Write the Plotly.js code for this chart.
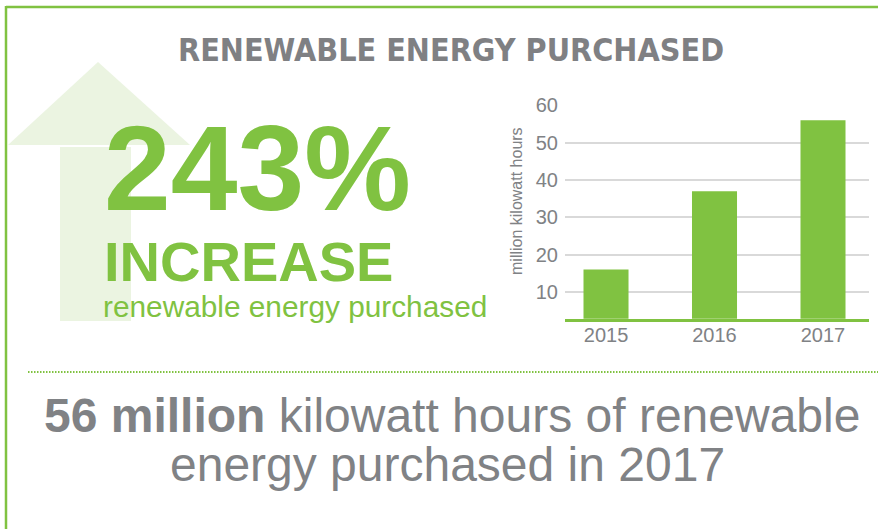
<!DOCTYPE html>
<html>
<head>
<meta charset="utf-8">
<script src="https://cdn.plot.ly/plotly-3.0.1.min.js"></script>
<style>html,body{margin:0;padding:0;background:#fff;}#chart{width:878px;height:529px;}</style>
</head>
<body>
<div id="chart"></div>
<script>
// Data
const years = ["2015", "2016", "2017"];
const energyMillionKWh = [16, 37, 56];
const yTickValues = [10, 20, 30, 40, 50, 60];
const yTickLabels = ["10", "20", "30", "40", "50", "60"];

const titleText = "RENEWABLE ENERGY PURCHASED";
const bigNumber = "243%";
const bigWord = "INCREASE";
const subText = "renewable energy purchased";
const yAxisTitle = "million kilowatt hours";
const bottomLine1 = "<b>56 million</b> kilowatt hours of renewable";
const bottomLine2 = "energy purchased in 2017";

const W = 878, H = 529;
const GREEN = "#80c241";
const GRAY = "#808285";
const LIGHT = "#ebf4e1";
const px = x => x / W;
const py = y => 1 - y / H;

const trace = {
  type: "bar",
  x: years,
  y: energyMillionKWh,
  width: 0.415,
  marker: {color: GREEN, line: {width: 0}},
  hoverinfo: "x+y"
};

const layout = {
  width: W, height: H,
  margin: {l: 0, r: 0, t: 0, b: 0},
  paper_bgcolor: "#ffffff",
  plot_bgcolor: "rgba(0,0,0,0)",
  showlegend: false,
  font: {family: "Liberation Sans, Arial, sans-serif", color: GRAY},
  xaxis: {
    type: "category",
    domain: [px(565), px(869)],
    range: [-0.378, 2.424],
    showgrid: false, zeroline: false,
    showline: true, linecolor: GREEN, linewidth: 2.5,
    ticks: "", ticklabelstandoff: -3,
    tickfont: {size: 20, color: GRAY, family: "Liberation Sans, Arial, sans-serif"},
    fixedrange: true
  },
  yaxis: {
    domain: [py(318.7), py(105.3)],
    range: [2.85, 60],
    tickvals: yTickValues, ticktext: yTickLabels,
    showgrid: true, gridcolor: "#d9d9d9", gridwidth: 2,
    zeroline: false, showline: false,
    ticks: "", ticklabelstandoff: 6,
    tickfont: {size: 20, color: GRAY, family: "Liberation Sans, Arial, sans-serif"},
    fixedrange: true
  },
  shapes: [
    // arrow head
    {type: "path", xref: "paper", yref: "paper", layer: "below",
     path: `M ${px(8)} ${py(145)} L ${px(98)} ${py(62)} L ${px(190)} ${py(145)} Z`,
     fillcolor: LIGHT, line: {width: 0}},
    // arrow shaft
    {type: "rect", xref: "paper", yref: "paper", layer: "below",
     x0: px(60), x1: px(131), y0: py(321), y1: py(147),
     fillcolor: LIGHT, line: {width: 0}},
    // border top
    {type: "line", xref: "paper", yref: "paper",
     x0: px(6), x1: px(878), y0: py(7), y1: py(7),
     line: {color: GREEN, width: 2.5}},
    // border left
    {type: "line", xref: "paper", yref: "paper",
     x0: px(6), x1: px(6), y0: py(6), y1: py(529),
     line: {color: GREEN, width: 2.5}},
    // dotted separator
    {type: "line", xref: "paper", yref: "paper",
     x0: px(28), x1: px(878), y0: py(372), y1: py(372),
     line: {color: GREEN, width: 2, dash: "1.5px,1.5px"}}
  ],
  annotations: [
    {text: titleText, xref: "paper", yref: "paper", x: px(451.5), y: py(50),
     xanchor: "center", yanchor: "middle", showarrow: false,
     font: {family: "Liberation Sans Narrow, DejaVu Sans Condensed, Arial Narrow, sans-serif", size: 32, color: "#7f8083", weight: "bold"}},
    {text: "<b>" + bigNumber + "</b>", xref: "paper", yref: "paper", x: px(102), y: py(168.4),
     xanchor: "left", yanchor: "middle", showarrow: false,
     font: {family: "Liberation Sans, Arial, sans-serif", size: 120, color: GREEN}},
    {text: "<b>" + bigWord + "</b>", xref: "paper", yref: "paper", x: px(102), y: py(261.6),
     xanchor: "left", yanchor: "middle", showarrow: false,
     font: {family: "Liberation Sans, Arial, sans-serif", size: 56, color: GREEN}},
    {text: subText, xref: "paper", yref: "paper", x: px(101), y: py(306),
     xanchor: "left", yanchor: "middle", showarrow: false,
     font: {family: "Liberation Sans, Arial, sans-serif", size: 29.8, color: GREEN}},
    {text: yAxisTitle, xref: "paper", yref: "paper", x: px(516), y: py(201),
     xanchor: "center", yanchor: "middle", showarrow: false, textangle: -90,
     font: {family: "Liberation Sans, Arial, sans-serif", size: 16, color: GRAY}},
    {text: bottomLine1, xref: "paper", yref: "paper", x: px(452), y: py(415),
     xanchor: "center", yanchor: "middle", showarrow: false,
     font: {family: "Liberation Sans, Arial, sans-serif", size: 48, color: GRAY}},
    {text: bottomLine2, xref: "paper", yref: "paper", x: px(447), y: py(464),
     xanchor: "center", yanchor: "middle", showarrow: false,
     font: {family: "Liberation Sans, Arial, sans-serif", size: 48, color: GRAY}}
  ]
};

Plotly.newPlot("chart", [trace], layout, {displayModeBar: false, staticPlot: false});
</script>
</body>
</html>
